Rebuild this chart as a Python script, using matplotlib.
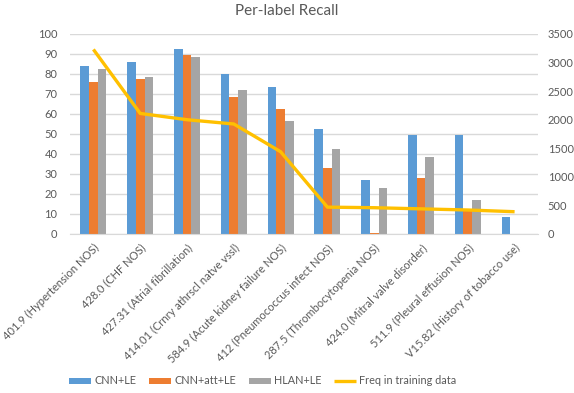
import numpy as np
import matplotlib
matplotlib.use('Agg')
import matplotlib.pyplot as plt

labels = ['401.9 (Hypertension NOS)', '428.0 (CHF NOS)', '427.31 (Atrial fibrillation)',
          '414.01 (Crnry athrscl natve vssl)', '584.9 (Acute kidney failure NOS)',
          '412 (Pneumococcus infect NOS)', '287.5 (Thrombocytopenia NOS)',
          '424.0 (Mitral valve disorder)', '511.9 (Pleural effusion NOS)',
          'V15.82 (History of tobacco use)']
cnn_le = [84.2, 85.8, 92.4, 80.0, 73.6, 52.5, 26.8, 49.3, 49.6, 8.6]
cnn_att_le = [75.8, 77.3, 89.7, 68.5, 62.5, 32.8, 0.6, 28.0, 12.5, 0.0]
hlan_le = [82.6, 78.7, 88.4, 72.1, 56.3, 42.3, 23.1, 38.4, 17.0, 0.0]
freq = [3230, 2110, 2000, 1925, 1440, 470, 460, 440, 420, 390]

plt.rcParams['font.family'] = ['Lato', 'DejaVu Sans']
txt = '#595959'
fs = 8

fig = plt.figure(figsize=(5.74, 3.93), dpi=100)
ax = fig.add_axes([70/574, 1 - 234/393, 468/574, 200/393])
x = np.arange(len(labels))
w = 0.186
ax.bar(x - w, cnn_le, w, color='#5B9BD5', label='CNN+LE', zorder=2)
ax.bar(x, cnn_att_le, w, color='#ED7D31', label='CNN+att+LE', zorder=2)
ax.bar(x + w, hlan_le, w, color='#A5A5A5', label='HLAN+LE', zorder=2)

ax.set_xlim(-0.5, len(labels) - 0.5)
ax.set_ylim(0, 100)
ax.set_yticks(range(0, 101, 10))
ax.grid(axis='y', color='#D9D9D9', linewidth=1, zorder=0)
ax.set_axisbelow(True)
ax.set_xticks(x)
ax.set_xticklabels(labels, rotation=45, ha='right', rotation_mode='anchor', fontsize=fs, color=txt)
ax.tick_params(axis='x', length=0, pad=6)
ax.tick_params(axis='y', length=0, labelsize=fs, labelcolor=txt, pad=9)
for s in ['top', 'right', 'left']:
    ax.spines[s].set_visible(False)
ax.spines['bottom'].set_color('#D9D9D9')

ax2 = ax.twinx()
ax2.plot(x, freq, color='#FFC000', linewidth=2.4, label='Freq in training data', solid_capstyle='butt')
ax2.set_ylim(0, 3500)
ax2.set_yticks(range(0, 3501, 500))
ax2.tick_params(axis='y', length=0, labelsize=fs, labelcolor=txt, pad=7)
for s in ['top', 'right', 'left', 'bottom']:
    ax2.spines[s].set_visible(False)

fig.suptitle('Per-label Recall', x=0.5, y=1 - 4/393, va='top', fontsize=11, color=txt)

h1, l1 = ax.get_legend_handles_labels()
h2, l2 = ax2.get_legend_handles_labels()
fig.legend(h1 + h2, l1 + l2, loc='center', bbox_to_anchor=(263/574, 1 - 381/393), ncol=4,
           frameon=False, fontsize=7.8, labelcolor=txt, handlelength=2.0, handleheight=0.5,
           columnspacing=1.2, handletextpad=0.3)

fig.savefig('out.png', dpi=100)
